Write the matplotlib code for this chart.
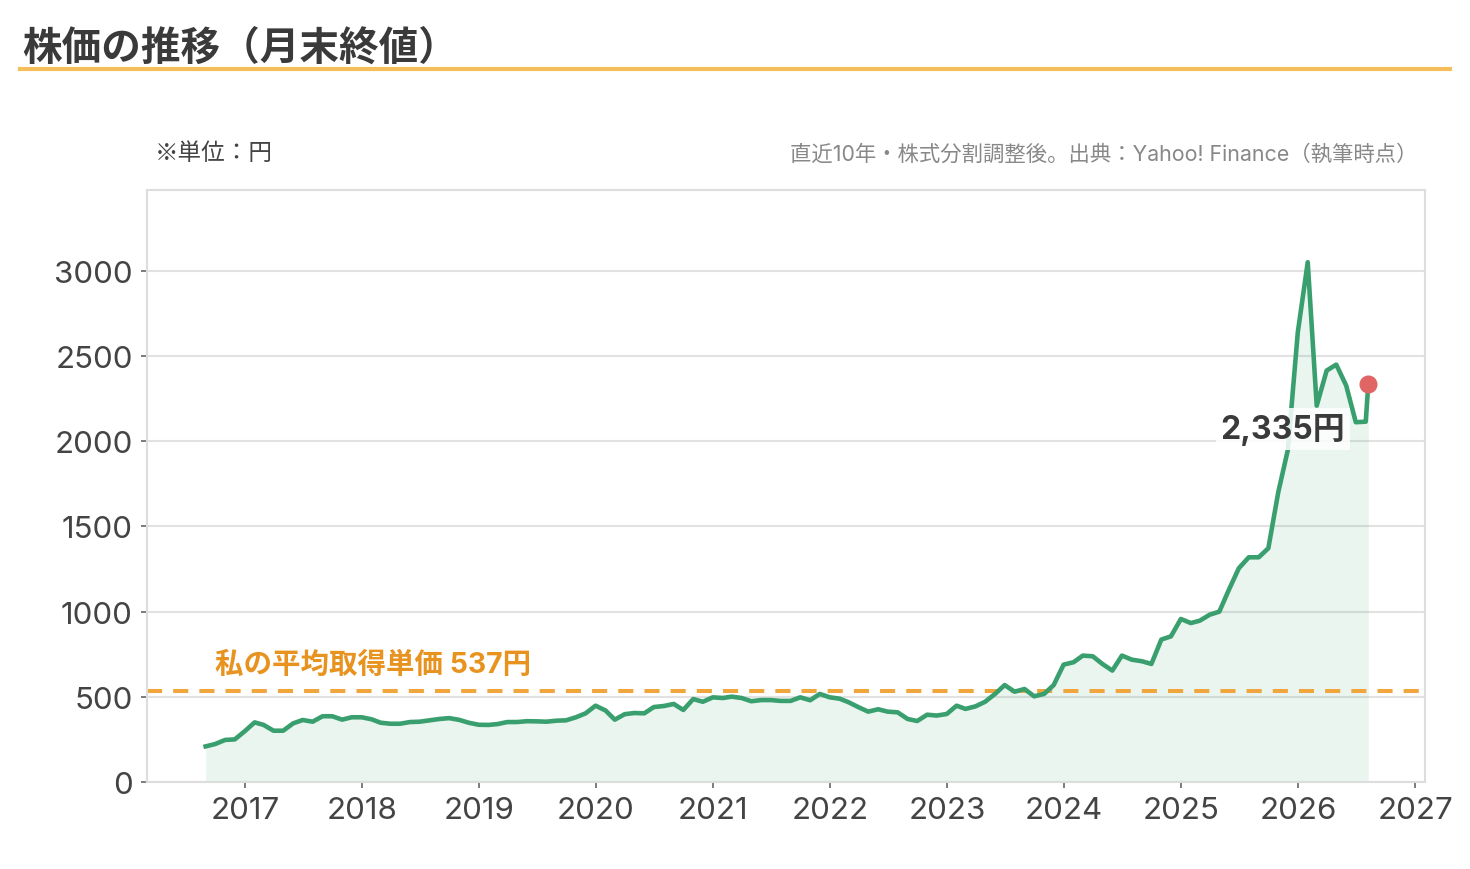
import matplotlib
matplotlib.use('Agg')
import matplotlib.pyplot as plt
import matplotlib.dates as mdates
from matplotlib.lines import Line2D
import pandas as pd

plt.rcParams['font.family'] = ['Inter', 'Noto Sans CJK JP', 'DejaVu Sans']
CJK_ONLY = ['Noto Sans CJK JP', 'DejaVu Sans']

# ---- data ----
month_end_dates = pd.date_range('2016-08-31', '2026-07-31', freq='ME')
monthly_close = [
    209, 223, 247, 250, 298,                                  # 2016 Aug-Dec
    350, 335, 301, 301, 344, 364, 354, 386, 386, 366, 380, 380,  # 2017
    368, 348, 342, 342, 352, 354, 362, 370, 375, 365, 348, 336,  # 2018
    335, 340, 352, 352, 357, 356, 354, 360, 362, 380, 403, 448,  # 2019
    420, 366, 398, 405, 403, 440, 446, 458, 423, 487, 471, 497,  # 2020
    493, 501, 493, 474, 481, 481, 476, 476, 497, 480, 517, 497,  # 2021
    489, 468, 439, 413, 427, 413, 409, 370, 358, 395, 390, 399,  # 2022
    448, 429, 444, 471, 517, 569, 530, 546, 503, 517, 569, 689,  # 2023
    703, 742, 738, 693, 654, 742, 718, 709, 693, 836, 855, 957,  # 2024
    933, 947, 982, 1000, 1133, 1255, 1319, 1319, 1372, 1701, 1950, 2640,  # 2025
    3051, 2209, 2415, 2450, 2327, 2112, 2115,                  # 2026 Jan-Jul
]
latest_date = pd.Timestamp('2026-08-08')
latest_close = 2335
avg_cost = 537

title = '株価の推移（月末終値）'
unit_note = '※単位：円'
source_note = '直近10年・株式分割調整後。出典：Yahoo! Finance（執筆時点）'
avg_label = '私の平均取得単価 537円'
latest_label = '2,335円'
y_ticks = [0, 500, 1000, 1500, 2000, 2500, 3000]

dates = list(month_end_dates) + [latest_date]
prices = monthly_close + [latest_close]

# ---- styles ----
GREEN = '#3a9f6e'
ORANGE_LINE = '#f0a63c'
ORANGE_TEXT = '#e8931f'
RED = '#e06666'
DARK = '#3a3a3a'

fig = plt.figure(figsize=(14.7, 8.7), dpi=100)
ax = fig.add_axes([147/1470, 87/870, 1278/1470, 592/870])

ax.fill_between(dates, prices, 0, color=GREEN, alpha=0.1, lw=0)
ax.plot(dates, prices, color=GREEN, lw=3.3, solid_joinstyle='round', zorder=3)
ax.plot([latest_date], [latest_close], 'o', ms=12, color=RED, zorder=5)

ax.axhline(avg_cost, color=ORANGE_LINE, lw=2.9, ls=(0, (3.75, 2.75)), zorder=2)
ax.annotate(avg_label, xy=((215-147)/1278, avg_cost), xycoords=ax.get_yaxis_transform(),
            xytext=(0, 26), textcoords='offset pixels', ha='left', va='center',
            fontsize=20.5, fontweight='bold', color=ORANGE_TEXT)

ax.annotate(latest_label, xy=(latest_date, latest_close), xytext=(-23, -45),
            textcoords='offset pixels', ha='right', va='center',
            fontsize=23, fontweight='bold', color=DARK, zorder=6,
            bbox=dict(boxstyle='square,pad=0.15', fc='white', ec='none', alpha=0.85))

ax.set_xlim(pd.Timestamp('2016-03-01'), pd.Timestamp('2027-02-01'))
ax.set_ylim(0, 3475)
ax.set_yticks(y_ticks)
ax.xaxis.set_major_locator(mdates.YearLocator())
ax.xaxis.set_major_formatter(mdates.DateFormatter('%Y'))

ax.tick_params(axis='both', labelsize=22.5, labelcolor='#444444', color='#666666',
               length=4.3, width=1.2, pad=6)
ax.grid(axis='y', color='#e2e2e2', lw=1.5)
ax.set_axisbelow(True)
for s in ax.spines.values():
    s.set_color('#dddddd')
    s.set_linewidth(1.5)

fig.text(22/1470, 1-48/870, title, fontsize=28.5, fontweight='bold', color=DARK,
         family=CJK_ONLY, ha='left', va='center')
fig.add_artist(Line2D([20/1470, 1450/1470], [1-70/870, 1-70/870], lw=3,
                      color='#f5bd5c', transform=fig.transFigure))
fig.text(155/1470, 1-153/870, unit_note, fontsize=17, color='#444444',
         family=CJK_ONLY, ha='left', va='center')
fig.text(1418/1470, 1-155/870, source_note, fontsize=15.4, color='#888888',
         ha='right', va='center')

fig.savefig('out.png', dpi=100)
